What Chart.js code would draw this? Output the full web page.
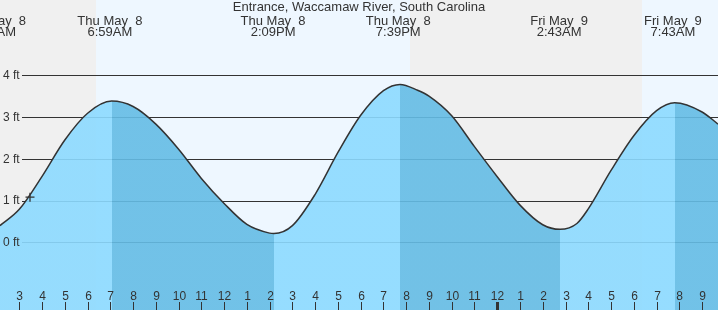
<!DOCTYPE html>
<html lang="en">
<head>
<meta charset="UTF-8">
<title>Entrance, Waccamaw River, South Carolina</title>
<script src="https://cdn.jsdelivr.net/npm/chart.js"></script>
<style>
  html, body { margin: 0; padding: 0; background: #fff; }
  #wrap { width: 718px; height: 310px; position: relative; }
</style>
</head>
<body>
<div id="wrap"><canvas id="tideChart"></canvas></div>
<script>
// hours counted from Thu May 8, 00:00
const tideHours = [2.15, 3, 4, 5, 6, 7.06, 8, 9, 10, 11, 12, 13, 14, 14.19,
                   15, 16, 17, 18, 19, 19.73, 20.5, 21, 22, 23, 24, 25, 26, 26.76,
                   27.5, 28, 29, 30, 31, 31.80, 33, 33.70];
const tideFeet = [0.40, 0.79, 1.58, 2.45, 3.09, 3.38, 3.25, 2.83, 2.23, 1.53, 0.93, 0.43, 0.22, 0.21,
                  0.40, 1.15, 2.15, 3.04, 3.63, 3.78, 3.64, 3.50, 3.03, 2.29, 1.57, 0.89, 0.42, 0.31,
                  0.45, 0.80, 1.72, 2.55, 3.15, 3.34, 3.12, 2.83];

const extremeHours = [1.87, 6.98, 14.15, 19.65, 26.72, 31.72];
const extremeDays = ['Thu May  8', 'Thu May  8', 'Thu May  8', 'Thu May  8', 'Fri May  9', 'Fri May  9'];
const extremeClock = ['1:52AM', '6:59AM', '2:09PM', '7:39PM', '2:43AM', '7:43AM'];

const sunriseHours = [6.37, 30.36];
const sunsetHours = [20.17];

const nowHour = [3.47];
const nowFeet = [1.08];

const yTicks = [0, 1, 2, 3, 4];
const yTickLabels = ['0 ft', '1 ft', '2 ft', '3 ft', '4 ft'];

const xTickHours = [3, 4, 5, 6, 7, 8, 9, 10, 11, 12, 13, 14, 15, 16, 17, 18, 19, 20, 21, 22, 23,
                    24, 25, 26, 27, 28, 29, 30, 31, 32, 33];
const xTickLabels = ['3', '4', '5', '6', '7', '8', '9', '10', '11', '12', '1', '2', '3', '4', '5',
                     '6', '7', '8', '9', '10', '11', '12', '1', '2', '3', '4', '5', '6', '7', '8', '9'];

const title = 'Entrance, Waccamaw River, South Carolina';

const FONT = '"Liberation Sans", Arial, sans-serif';
const INK = '#333';
const lightFill = 'rgba(140,218,255,0.9)';
const darkFill = 'rgba(100,188,229,0.9)';

const tidePlugin = {
  id: 'tideDecor',
  beforeDatasetsDraw(chart) {
    const {ctx, chartArea: a, scales: {x, y}} = chart;
    ctx.save();
    // night / day background
    ctx.fillStyle = '#f0f0f0';
    ctx.fillRect(a.left, a.top, a.width, a.height);
    ctx.fillStyle = '#eef7ff';
    for (let i = 0; i < sunriseHours.length; i++) {
      const x0 = Math.round(x.getPixelForValue(sunriseHours[i]));
      const x1 = i < sunsetHours.length ? Math.round(x.getPixelForValue(sunsetHours[i])) : a.right;
      ctx.fillRect(x0, a.top, x1 - x0, a.height);
    }
    // horizontal grid lines
    ctx.strokeStyle = INK;
    ctx.lineWidth = 1;
    yTicks.forEach(v => {
      const py = Math.round(y.getPixelForValue(v)) + 0.5;
      ctx.beginPath();
      ctx.moveTo(a.left + 22, py);
      ctx.lineTo(a.right, py);
      ctx.stroke();
    });
    ctx.restore();
  },
  afterDatasetsDraw(chart) {
    const {ctx, chartArea: a, scales: {x, y}} = chart;
    ctx.save();
    ctx.fillStyle = INK;
    // y labels
    ctx.font = '12px ' + FONT;
    ctx.textAlign = 'left';
    ctx.textBaseline = 'middle';
    yTicks.forEach((v, i) => {
      ctx.fillText(yTickLabels[i], a.left + 3, y.getPixelForValue(v) + 0.5);
    });
    // hour ticks along the bottom
    ctx.textAlign = 'center';
    ctx.textBaseline = 'alphabetic';
    xTickHours.forEach((h, i) => {
      const px = Math.round(x.getPixelForValue(h));
      const thick = h % 24 === 0;
      ctx.fillRect(px - (thick ? 1 : 0), a.bottom - 8, thick ? 3 : 1, 8);
      ctx.fillText(xTickLabels[i], px + 0.5, a.bottom - 10);
    });
    // title and high/low labels
    ctx.font = '13px ' + FONT;
    ctx.fillText(title, (a.left + a.right) / 2, 11);
    extremeHours.forEach((h, i) => {
      const px = x.getPixelForValue(h);
      ctx.fillText(extremeDays[i], px, 25);
      ctx.fillText(extremeClock[i], px, 36);
    });
    ctx.restore();
  }
};

// rising tide light, falling tide dark: hard stops at each turning point of the data
function tideFill(context) {
  const chart = context.chart;
  const {ctx, chartArea: a, scales} = chart;
  if (!a || !scales.x) return lightFill;
  const g = ctx.createLinearGradient(a.left, 0, a.right, 0);
  const frac = h => Math.min(1, Math.max(0, (scales.x.getPixelForValue(h) - a.left) / a.width));
  let cur = tideFeet[1] >= tideFeet[0] ? lightFill : darkFill;
  g.addColorStop(0, cur);
  for (let i = 1; i < tideFeet.length - 1; i++) {
    const up = tideFeet[i] > tideFeet[i - 1] && tideFeet[i] >= tideFeet[i + 1];
    const down = tideFeet[i] < tideFeet[i - 1] && tideFeet[i] <= tideFeet[i + 1];
    if (up || down) {
      const f = frac(tideHours[i]);
      g.addColorStop(f, cur);
      cur = up ? darkFill : lightFill;
      g.addColorStop(f, cur);
    }
  }
  g.addColorStop(1, cur);
  return g;
}

new Chart(document.getElementById('tideChart'), {
  type: 'line',
  data: {
    datasets: [{
      data: tideHours.map((h, i) => ({x: h, y: tideFeet[i]})),
      order: 2,
      borderColor: INK,
      borderWidth: 1.5,
      backgroundColor: tideFill,
      fill: 'start',
      pointRadius: 0,
      cubicInterpolationMode: 'monotone'
    }, {
      type: 'scatter',
      order: 1,
      data: nowHour.map((h, i) => ({x: h, y: nowFeet[i]})),
      pointStyle: 'cross',
      pointRadius: 4.5,
      borderColor: INK,
      borderWidth: 1.3,
      backgroundColor: INK
    }]
  },
  options: {
    responsive: true,
    maintainAspectRatio: false,
    animation: false,
    layout: {padding: 0, autoPadding: false},
    plugins: {legend: {display: false}, tooltip: {enabled: false}, title: {display: false}},
    scales: {
      x: {type: 'linear', min: 2.152, max: 33.70, display: false},
      y: {type: 'linear', min: -1.62, max: 5.80, display: false}
    }
  },
  plugins: [tidePlugin]
});
</script>
</body>
</html>
